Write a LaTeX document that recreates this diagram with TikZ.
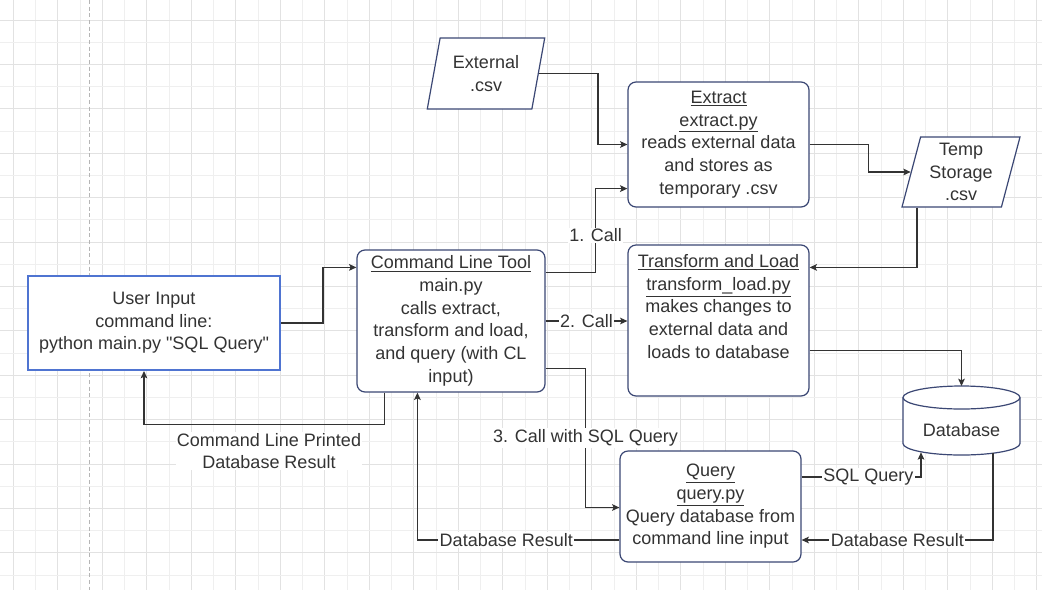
\documentclass[tikz,border=0pt]{standalone}
\usepackage{fontspec}
\setmainfont{Liberation Sans}
\newfontfamily\qfont{Liberation Sans}
\usetikzlibrary{arrows.meta,positioning,calc,shapes.geometric}
\definecolor{dgInk}{HTML}{333333}
\definecolor{dgNavy}{HTML}{3B4774}
\definecolor{dgBlue}{HTML}{4F74D1}
\definecolor{dgGrid}{HTML}{E2E2E2}
\definecolor{dgGridLt}{HTML}{EFEFEF}
\definecolor{dgPage}{HTML}{B5B5B5}
\newcommand{\sqq}{{\qfont\symbol{34}}}

\begin{document}
\begin{tikzpicture}[x=0.75pt, y=-0.75pt,
  txt/.style={font=\fontsize{13.5}{17}\selectfont, text=dgInk, align=center},
  prc/.style={txt, draw=dgNavy, line width=0.9pt, rounded corners=6pt, fill=white, inner sep=2pt, minimum width=135.75pt},
  inp/.style={txt, draw=dgBlue, line width=1.5pt, fill=white, minimum width=189pt, minimum height=70.5pt},
  iob/.style={txt, trapezium, trapezium left angle=76, trapezium right angle=104, trapezium stretches=true, draw=dgNavy, line width=0.9pt, fill=white, minimum width=88.5pt, inner sep=1pt},
  arr/.style={-{Stealth[length=5.5pt,width=5pt,inset=1.2pt]}, draw=dgInk, line width=0.9pt},
  lbl/.style={txt, fill=white, inner sep=1pt}]
\useasboundingbox[fill=white] (0,0) rectangle (1042,590);
% background grid and page break
\foreach \i in {0,...,46}{
  \pgfmathsetmacro\gx{13.3+22.25*\i}
  \ifodd\i \def\gc{dgGridLt}\else \def\gc{dgGrid}\fi
  \draw[draw=\gc, line width=0.75pt] (\gx,0) -- (\gx,590);}
\foreach \j in {0,...,26}{
  \pgfmathsetmacro\gy{20+22.2*\j}
  \ifodd\j \def\gc{dgGridLt}\else \def\gc{dgGrid}\fi
  \draw[draw=\gc, line width=0.75pt] (0,\gy) -- (1042,\gy);}
\draw[dgPage, line width=0.6pt, dash pattern=on 3pt off 2pt] (89.5,0) -- (89.5,590);

% boxes
\node[inp] (ui) at (154,323) {User Input\\command line:\\python main.py \sqq SQL Query\sqq};
\node[prc, minimum width=141pt, minimum height=106.5pt] (clt) at (451,321)
  {\underline{Command Line Tool}\\main.py\\calls extract,\\transform and load,\\and query (with CL\\input)};
\node[iob, minimum height=53.25pt] (ext) at (486,73.5) {External\\.csv};
\node[prc, minimum height=93.75pt] (ex) at (718.5,144.5)
  {\underline{Extract}\\\underline{extract.py}\\reads external data\\and stores as\\temporary .csv};
\node[iob, minimum height=52.5pt] (tmp) at (961,172) {Temp\\Storage\\.csv};
\node[prc, minimum height=113.25pt] (tl) at (718.5,320.5) {};
\node[txt] (tlt) at ($(tl.center)+(0,-14)$)
  {\underline{Transform and Load}\\\underline{transform\_load.py}\\makes changes to\\external data and\\loads to database};
\node[prc, minimum height=83.25pt] (q) at (710.5,506.5)
  {\underline{Query}\\\underline{query.py}\\Query database from\\command line input};

% database cylinder
\draw[draw=dgNavy, line width=0.9pt, fill=white] (903,397.5) -- (903,443.5)
  arc[start angle=180, end angle=0, x radius=58.5, y radius=11.5] -- (1020,397.5)
  arc[start angle=0, end angle=-180, x radius=58.5, y radius=11.5] -- cycle;
\draw[draw=dgNavy, line width=0.9pt] (903,397.5) arc[start angle=180, end angle=0, x radius=58.5, y radius=11.5];
\node[txt] (db) at (961.5,430) {Database};

% connectors
\draw[arr] (ui.east) -- ++(42,0) |- ($(clt.north west)+(0,18)$);
\draw[arr] ($(clt.north east)+(0,23)$) -- ++(50,0) |- node[lbl, pos=0.22] {1. Call} ($(ex.south west)+(0,-19)$);
\draw[arr] (ext.east) -- ++(59,0) |- (ex.west);
\draw[arr] (ex.east) -- ++(59,0) |- (tmp.west);
\draw[arr] ($(tmp.south)+(-44,0)$) |- ($(tl.north east)+(0,23)$);
\draw[arr] (clt.east) -- node[lbl] {2. Call} (tl.west |- clt.east);
\draw[arr] ($(tl.east)+(0,30)$) -| ($(db.center)+(0,-44)$);
\draw[arr] ($(clt.south east)+(0,-24)$) -- ++(40,0) |- node[lbl, pos=0.25] {3. Call with SQL Query} ($(q.west)+(0,1)$);
\draw[arr] ($(q.east)+(0,-29.5)$) -| node[lbl, pos=0.28] {SQL Query} ($(db.center)+(-40.5,22.3)$);
\draw[arr] ($(db.center)+(31.5,23)$) |- node[lbl, pos=0.75] {Database Result} ($(q.east)+(0,33.5)$);
\draw[arr] ($(q.west)+(0,33.5)$) -| node[lbl, pos=0.28] {Database Result} ($(clt.south west)+(61,0)$);
\draw[arr] ($(clt.south west)+(28,0)$) -- ++(0,32) -| node[lbl, pos=0.24, anchor=north, yshift=-5pt] {Command Line Printed\\Database Result} ($(ui.south west)+(117,0)$);
\end{tikzpicture}
\end{document}
